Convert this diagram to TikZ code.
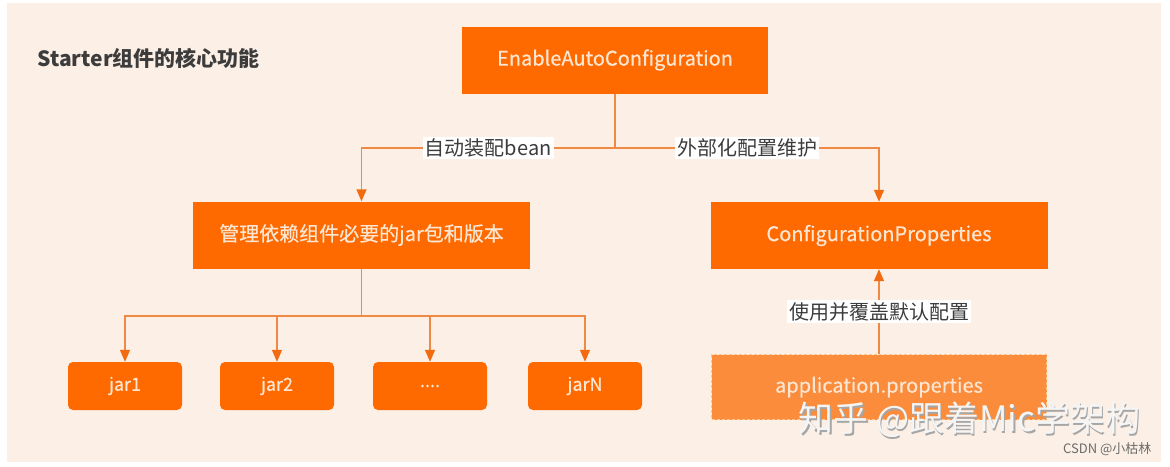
\documentclass[tikz,border=0pt]{standalone}
\usepackage{fontspec}
\setmainfont{Noto Sans CJK SC}
\newfontfamily\boxfont{Noto Sans CJK SC}[FakeBold=0.5]
\usepackage{tikz}
\usetikzlibrary{positioning,arrows.meta,calc}
\definecolor{pagebg}{HTML}{FCEFE5}
\definecolor{boxorange}{HTML}{FF6A00}
\definecolor{lightorange}{HTML}{FA8C3C}
\definecolor{boxtext}{HTML}{FCE6D2}
\definecolor{linecol}{HTML}{EE8A45}
\definecolor{arrowcol}{HTML}{F26B10}
\definecolor{darktext}{HTML}{3C3C3C}

\begin{document}
\begin{tikzpicture}[
    x=1pt, y=-1pt,
    font=\fontsize{20}{22}\selectfont,
    box/.style={fill=boxorange, text=boxtext, font=\fontsize{20}{22}\boxfont,
                minimum height=67pt, align=center, inner sep=0pt},
    jarbox/.style={fill=boxorange, text=boxtext, font=\fontsize{18}{20}\boxfont,
                   rounded corners=5pt, minimum height=48pt, minimum width=114pt, inner sep=0pt},
    appbox/.style={fill=lightorange, text=boxtext, font=\fontsize{20}{22}\boxfont,
                   draw=orange!45, densely dashed, line width=0.8pt,
                   minimum height=65pt, minimum width=335pt, inner sep=0pt},
    lbl/.style={fill=white, text=darktext, inner sep=2pt},
    arr/.style={draw=linecol, line width=1.5pt, -{Triangle[width=10pt,length=12pt,color=arrowcol]}},
    ln/.style={draw=linecol, line width=1.5pt}
]
\useasboundingbox (0,0) rectangle (1170,466);
\fill[white] (0,0) rectangle (1170,466);
\fill[pagebg] (7,3) rectangle (1161,462);

\node[anchor=west, text=darktext, font=\fontsize{21}{23}\selectfont\bfseries] (title) at (34,58)
     {Starter组件的核心功能};

\node[box, minimum width=306pt] (top) at (615,60) {EnableAutoConfiguration};
\node[box, minimum width=337pt] (dep) at (361.5,235) {管理依赖组件必要的jar包和版本};
\node[box, minimum width=337pt] (conf) at (879,235.5) {ConfigurationProperties};
\node[appbox] (app) at (879,387) {application.properties};

\node[jarbox] (jar1) at (125,386) {jar1};
\node[jarbox] (jar2) at (277,386) {jar2};
\node[jarbox] (jar3) at (430,386) {....};
\node[jarbox] (jarN) at (585,386) {jarN};

\coordinate (split) at (615,148);
\coordinate (fan) at (361.5,316);

% upper tree
\draw[ln] (top.south) -- (split);
\draw[arr] (split) -| (dep.north) node[lbl, pos=0.25] (autobean) {自动装配bean};
\draw[arr] (split) -| (conf.north) node[lbl, pos=0.25] (extconf) {外部化配置维护};

% jar fan-out
\draw[ln] (dep.south) -- (fan);
\foreach \j in {jar1,jar2,jar3,jarN}
    \draw[arr] (fan) -| (\j.north);

% override
\draw[arr] (app.north) -- (conf.south) node[lbl, midway] (override) {使用并覆盖默认配置};

% watermarks
\node[anchor=west, text=gray!70, font=\fontsize{35}{38}\selectfont] at (796.5,421.5) {知乎 @跟着Mic学架构};
\node[anchor=west, text=white!92!gray, font=\fontsize{35}{38}\selectfont] (mark) at (795,420) {知乎 @跟着Mic学架构};
\node[anchor=east, text=gray!85!black, font=\fontsize{13}{15}\selectfont] (csdn) at (1155,449) {CSDN @小枯林};
\end{tikzpicture}
\end{document}
